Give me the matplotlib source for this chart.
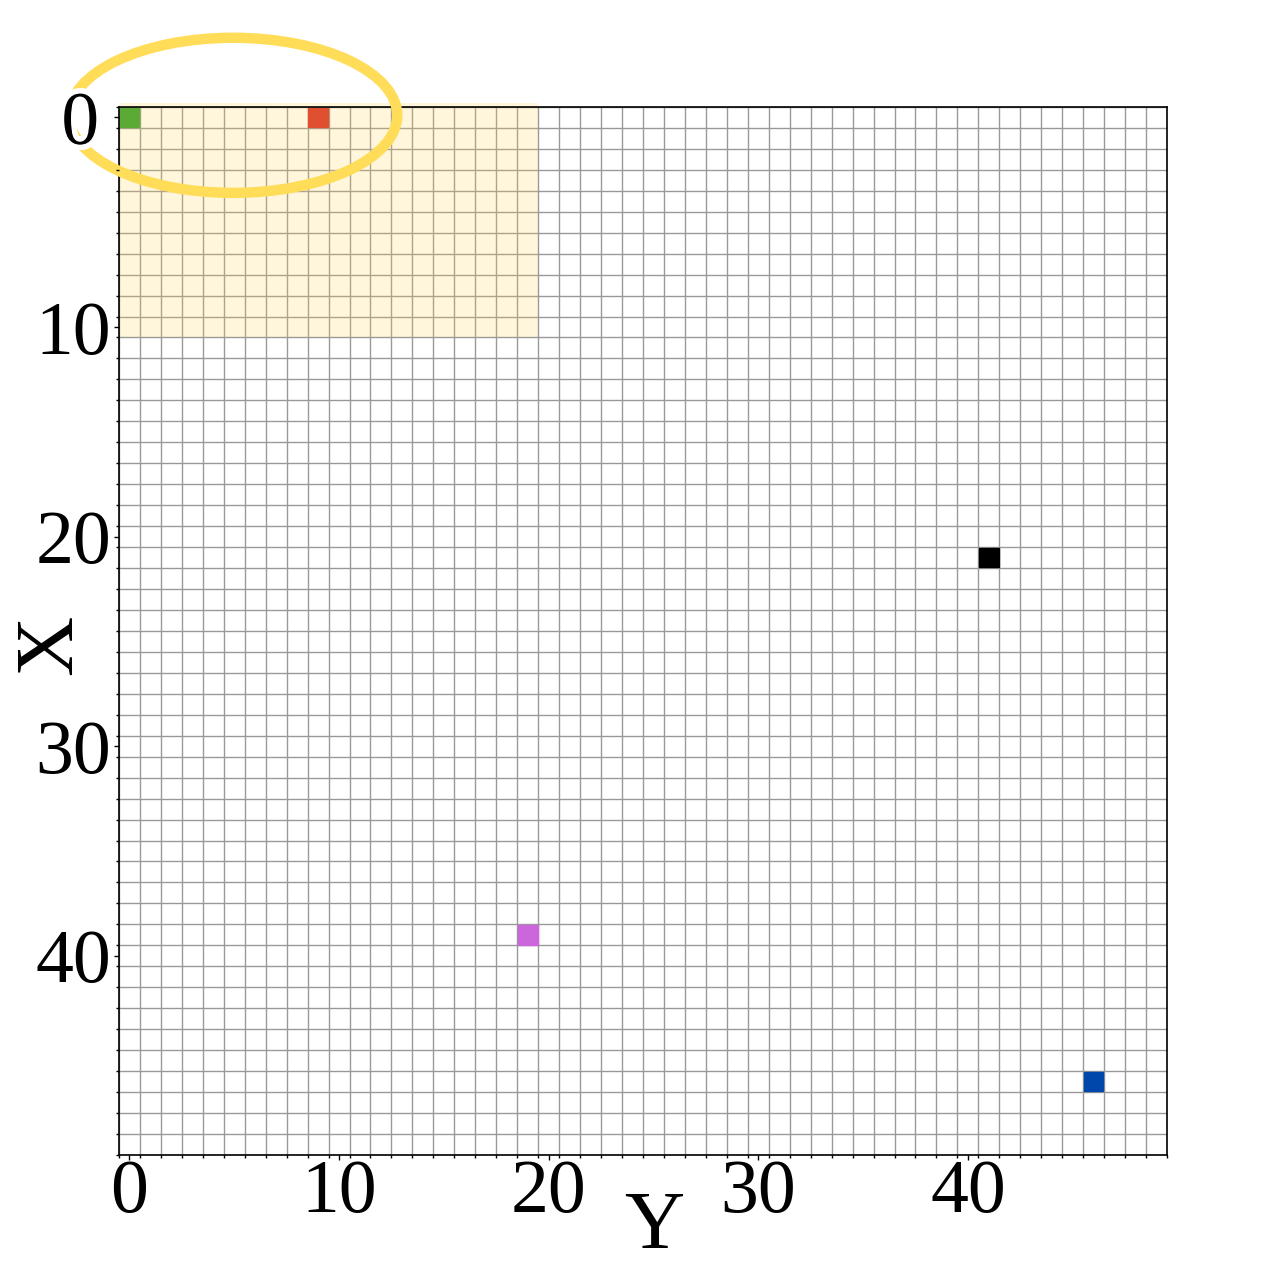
import numpy as np
import matplotlib.pyplot as plt
from matplotlib.patches import Rectangle, Ellipse
import matplotlib.patheffects as pe
from matplotlib.transforms import ScaledTranslation

plt.rcParams['font.family'] = ['Liberation Serif', 'DejaVu Serif']

n = 50
# marked cells: row (X), column (Y), colour
cell_rows = [0, 0, 21, 39, 46]
cell_cols = [0, 9, 41, 19, 46]
cell_colors = ['#5aaa35', '#e05030', '#000000', '#cc66dd', '#0047ab']

# highlighted block
hl_rows = (0, 10)
hl_cols = (0, 19)

ticks = [0, 10, 20, 30, 40]

fig = plt.figure(figsize=(12.75, 12.7), dpi=100)
ax = fig.add_axes([0.0933, 0.0906, 0.822, 0.8252])

ax.set_xlim(-0.5, n - 0.5)
ax.set_ylim(n - 0.5, -0.5)

edges = np.arange(-0.5, n, 1)
ax.vlines(edges, -0.5, n - 0.5, colors='#999999', linewidth=1.0, zorder=0.5)
ax.hlines(edges, -0.5, n - 0.5, colors='#999999', linewidth=1.0, zorder=0.5)

# yellow highlight region
ax.add_patch(Rectangle((hl_cols[0] - 0.5, hl_rows[0] - 0.7),
                       hl_cols[1] - hl_cols[0] + 1, hl_rows[1] - hl_rows[0] + 1.2,
                       facecolor='#ffd54f', alpha=0.2, edgecolor='none',
                       zorder=1, clip_on=False))

for r, c, col in zip(cell_rows, cell_cols, cell_colors):
    ax.add_patch(Rectangle((c - 0.47, r - 0.47), 0.94, 0.94, facecolor=col,
                           edgecolor=col, linewidth=1, zorder=2))

ax.add_patch(Ellipse((4.95, -0.1), 15.65, 7.4, fill=False, edgecolor='#ffdd59',
                     linewidth=7.5, zorder=3, clip_on=False))

ax.set_xticks(ticks)
ax.set_yticks(ticks)
ax.set_xticks(edges, minor=True)
ax.set_yticks(edges, minor=True)
ax.tick_params(which='major', length=3.6, width=1.0, labelsize=54.5)
ax.tick_params(which='minor', length=2.2, width=1.0)
ax.tick_params(axis='x', which='major', pad=-1)
ax.tick_params(axis='y', which='major', pad=2)
ax.xaxis.set_zorder(5)
ax.yaxis.set_zorder(5)

# the "0" on the left sits a little further out, with a white gap in the ring
lab0 = ax.yaxis.get_major_ticks()[0].label1
lab0.set_transform(lab0.get_transform() + ScaledTranslation(-0.12, 0, fig.dpi_scale_trans))
lab0.set_path_effects([pe.withStroke(linewidth=8, foreground='white')])

for s in ax.spines.values():
    s.set_linewidth(1.2)
    s.set_zorder(2.5)

ax.set_xlabel('Y', fontsize=60)
ax.set_ylabel('X', fontsize=60)
ax.xaxis.set_label_coords(0.511, -0.034)
ax.yaxis.set_label_coords(-0.028, 0.487)

fig.savefig('out.png', dpi=100)
